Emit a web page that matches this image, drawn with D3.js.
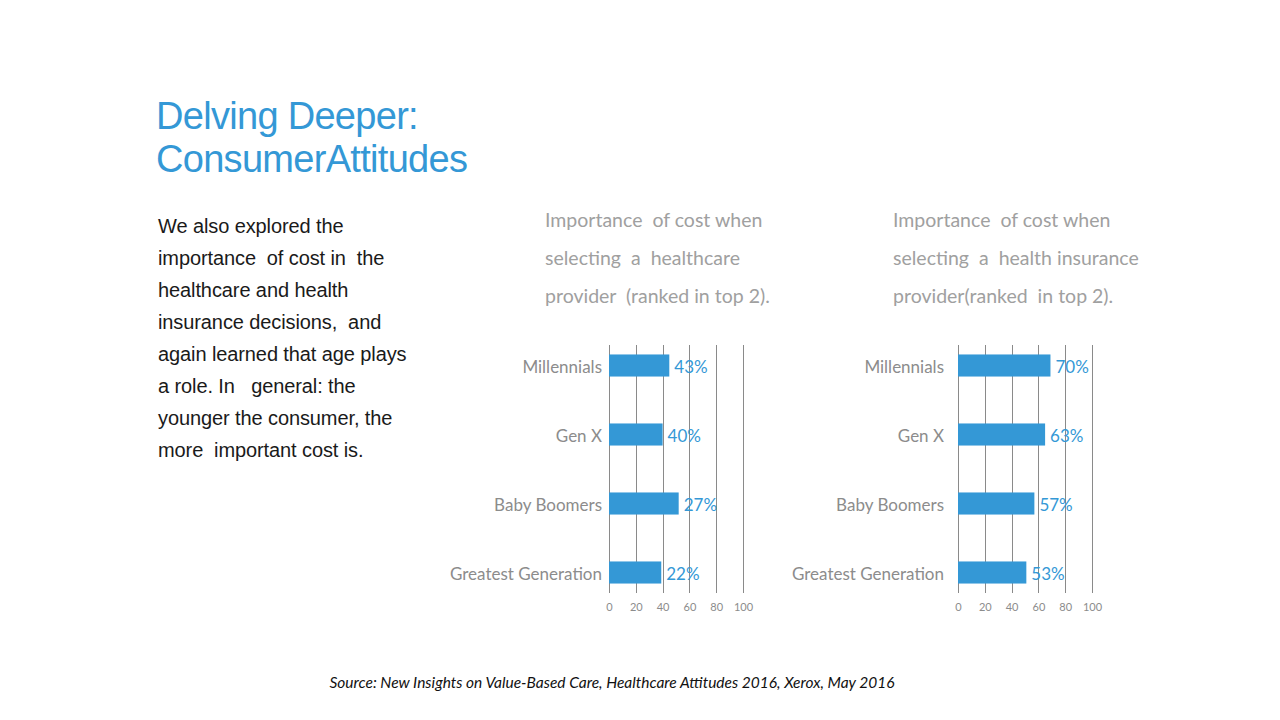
<!DOCTYPE html>
<html>
<head>
<meta charset="utf-8">
<script src="https://cdn.jsdelivr.net/npm/d3@7"></script>
<style>
  html, body { margin: 0; padding: 0; background: #ffffff; }
  svg { display: block; }
</style>
</head>
<body>
<svg id="chart" width="1280" height="720"></svg>
<script>
// ---- data ----
const categories = ["Millennials", "Gen X", "Baby Boomers", "Greatest Generation"];
const providerBars = [45, 40, 52, 39];          // bar lengths as drawn
const providerLabels = ["43%", "40%", "27%", "22%"];
const insuranceBars = [69, 65, 57, 51];
const insuranceLabels = ["70%", "63%", "57%", "53%"];
const tickValues = [0, 20, 40, 60, 80, 100];
const titleLines = ["Delving Deeper:", "ConsumerAttitudes"];
const bodyLines = [
  "We also explored the",
  "importance  of cost in  the",
  "healthcare and health",
  "insurance decisions,  and",
  "again learned that age plays",
  "a role. In   general: the",
  "younger the consumer, the",
  "more  important cost is."
];
const providerTitle = ["Importance  of cost when", "selecting  a  healthcare", "provider  (ranked in top 2)."];
const insuranceTitle = ["Importance  of cost when", "selecting  a  health insurance", "provider(ranked  in top 2)."];
const sourceText = "Source: New Insights on Value-Based Care, Healthcare Attitudes 2016, Xerox, May 2016";

// ---- styles ----
const BLUE = "#3498d6";
const GRAY = "#8c8c8c";
const GRID = "#8a8a8a";
const CAL = "Lato, 'Open Sans', sans-serif";

const svg = d3.select("#chart");

// Title
svg.append("g").selectAll("text").data(titleLines).join("text")
  .attr("x", 156).attr("y", (d, i) => 129 + i * 43)
  .attr("font-family", "'Liberation Sans', Arial, sans-serif")
  .attr("font-size", 38).attr("letter-spacing", -0.7)
  .attr("fill", BLUE).text(d => d);

// Body text
svg.append("g").selectAll("text").data(bodyLines).join("text")
  .attr("x", 158).attr("y", (d, i) => 233 + i * 32)
  .attr("xml:space", "preserve")
  .attr("font-family", "'Liberation Sans', Arial, sans-serif")
  .attr("font-size", 20).attr("letter-spacing", -0.1)
  .attr("fill", "#1a1a1a").text(d => d);

// Source
svg.append("text")
  .attr("x", 612).attr("y", 688).attr("text-anchor", "middle")
  .attr("font-family", CAL).attr("font-style", "italic")
  .attr("font-size", 15.5).attr("fill", "#111").text(sourceText);

const y = d3.scaleBand().domain(categories).range([331, 607])
  .paddingInner(0.68).paddingOuter(0.34);

function drawChart(cfg) {
  const g = svg.append("g");
  const x = d3.scaleLinear().domain([0, 100]).range([cfg.x0, cfg.x1]);

  // chart title
  g.append("g").selectAll("text").data(cfg.title).join("text")
    .attr("x", cfg.titleX).attr("y", (d, i) => 227 + i * 38)
    .attr("xml:space", "preserve")
    .attr("font-family", CAL).attr("font-size", 19.5)
    .attr("fill", "#a0a0a0").text(d => d);

  // gridlines
  g.append("g").selectAll("line").data(tickValues).join("line")
    .attr("x1", d => Math.round(x(d)) + 0.5).attr("x2", d => Math.round(x(d)) + 0.5)
    .attr("y1", 345).attr("y2", 593)
    .attr("stroke", GRID).attr("stroke-width", 1);

  // axis tick labels
  const axis = d3.axisBottom(x).tickValues(tickValues).tickSize(0).tickPadding(0);
  const ag = g.append("g").attr("transform", "translate(0,603)").call(axis);
  ag.select(".domain").remove();
  ag.selectAll("text").attr("font-family", CAL).attr("font-size", 11)
    .attr("fill", GRAY).attr("dy", "0.71em");

  // bars
  g.append("g").selectAll("rect").data(cfg.bars).join("rect")
    .attr("x", x(0)).attr("y", (d, i) => y(categories[i]))
    .attr("width", d => x(d) - x(0)).attr("height", y.bandwidth())
    .attr("fill", BLUE);

  // value labels
  g.append("g").selectAll("text").data(cfg.bars).join("text")
    .attr("x", d => x(d) + 5)
    .attr("y", (d, i) => y(categories[i]) + y.bandwidth() / 2 + 1)
    .attr("dominant-baseline", "central")
    .attr("font-family", CAL).attr("font-size", 17)
    .attr("fill", BLUE).text((d, i) => cfg.labels[i]);

  // category labels
  g.append("g").selectAll("text").data(categories).join("text")
    .attr("x", cfg.catX).attr("y", d => y(d) + y.bandwidth() / 2 + 1)
    .attr("text-anchor", "end").attr("dominant-baseline", "central")
    .attr("font-family", CAL).attr("font-size", 17)
    .attr("fill", GRAY).text(d => d);
}

drawChart({ x0: 609, x1: 743, bars: providerBars, labels: providerLabels,
            title: providerTitle, titleX: 545, catX: 602 });
drawChart({ x0: 958, x1: 1092, bars: insuranceBars, labels: insuranceLabels,
            title: insuranceTitle, titleX: 893, catX: 944 });
</script>
</body>
</html>
